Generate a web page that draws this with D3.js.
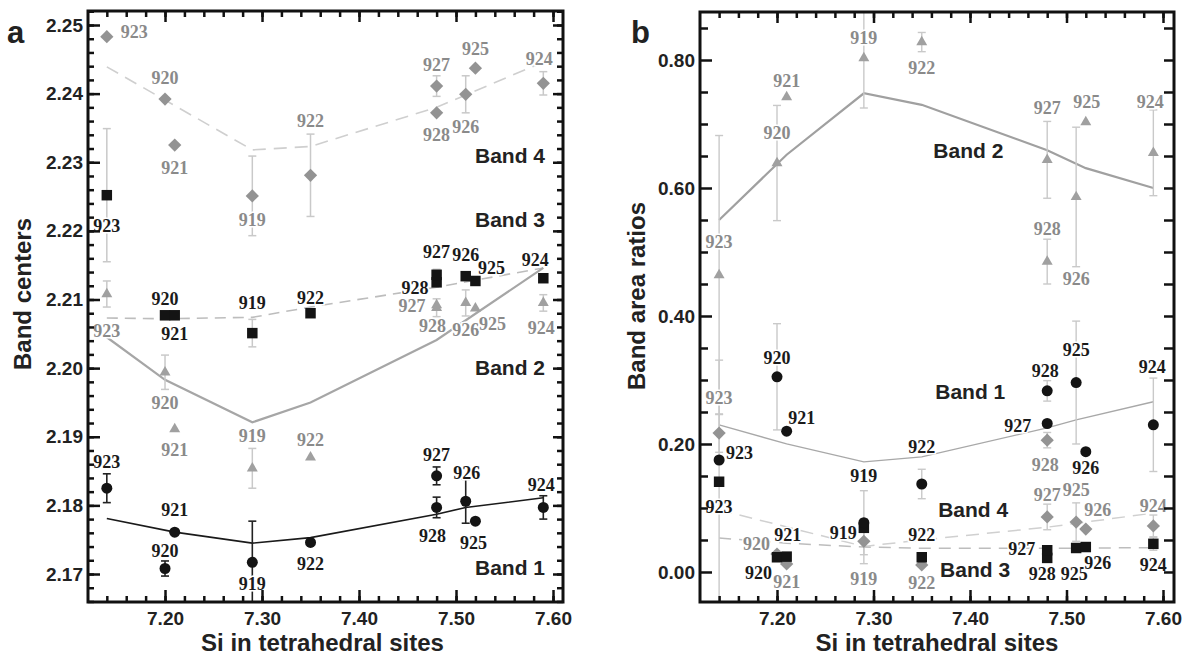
<!DOCTYPE html>
<html><head><meta charset="utf-8">
<script src="https://cdn.jsdelivr.net/npm/d3@7"></script>
<style>body{margin:0;background:#fff} svg{display:block}</style>
</head><body><svg id="c" width="1191" height="656"></svg>
<script>
// ---------- data ----------
const si = [7.14, 7.20, 7.21, 7.29, 7.35, 7.48, 7.48, 7.51, 7.52, 7.59];
const samplesA = ["923","920","921","919","922","928","927","926","925","924"];
const samplesB = ["923","920","921","919","922","928","927","925","926","924"];
const xTicks = [7.20, 7.30, 7.40, 7.50, 7.60];
const aYTicks = [2.17, 2.18, 2.19, 2.20, 2.21, 2.22, 2.23, 2.24, 2.25];
const bYTicks = [0.00, 0.20, 0.40, 0.60, 0.80];

// Panel a: band centers
const aBand1 = [2.1825, 2.1708, 2.1761, 2.1717, 2.1746, 2.1797, 2.1843, 2.1806, 2.1777, 2.1797];
const aBand1Err = [0.0021, 0.0011, 0, 0.006, 0, 0.0015, 0.0013, 0.0032, 0, 0.0017];
const aBand2 = [2.2108, 2.1994, 2.1911, 2.1854, 2.1870, 2.2088, 2.2092, 2.2095, 2.2087, 2.2095];
const aBand2Err = [0.0019, 0.0025, 0, 0.0029, 0, 0.0013, 0, 0.0019, 0, 0.0012];
const aBand3 = [2.2252, 2.2077, 2.2077, 2.2051, 2.2080, 2.2125, 2.2136, 2.2134, 2.2127, 2.2131];
const aBand3Err = [0.0097, 0, 0, 0.002, 0, 0, 0.0008, 0, 0, 0];
const aBand4 = [2.2483, 2.2392, 2.2325, 2.2251, 2.2281, 2.2372, 2.2411, 2.2399, 2.2437, 2.2415];
const aBand4Err = [0, 0, 0, 0.0058, 0.006, 0, 0.0015, 0.0027, 0, 0.0017];

const aFit1X = [7.14, 7.21, 7.29, 7.35, 7.48, 7.51, 7.59];
const aFit1 = [2.1781, 2.1761, 2.1745, 2.1753, 2.1787, 2.1797, 2.1811];
const aFit2X = [7.14, 7.20, 7.29, 7.35, 7.48, 7.59];
const aFit2 = [2.2045, 2.1983, 2.1921, 2.1950, 2.2041, 2.2146];
const aFit3X = [7.14, 7.20, 7.29, 7.35, 7.48, 7.59];
const aFit3 = [2.2073, 2.2072, 2.2074, 2.2089, 2.2118, 2.2146];
const aFit4X = [7.14, 7.29, 7.35, 7.48, 7.59];
const aFit4 = [2.2439, 2.2318, 2.2323, 2.2380, 2.2446];

// Panel b: band area ratios
const bBand1 = [0.175, 0.305, 0.220, 0.077, 0.1375, 0.283, 0.232, 0.296, 0.188, 0.230];
const bBand1Err = [0, 0.083, 0, 0.05, 0.023, 0.016, 0, 0.096, 0, 0.073];
const bBand2 = [0.464, 0.639, 0.742, 0.803, 0.828, 0.485, 0.644, 0.586, 0.703, 0.655];
const bBand2Err = [0.218, 0.09, 0, 0.078, 0.015, 0.035, 0.06, 0.109, 0, 0.067];
const bBand3 = [0.141, 0.023, 0.024, 0.069, 0.023, 0.022, 0.034, 0.0375, 0.039, 0.044];
const bBand3Err = [0.19, 0, 0, 0, 0, 0, 0, 0, 0, 0.01];
const bBand4 = [0.217, 0.028, 0.0125, 0.048, 0.011, 0.206, 0.086, 0.078, 0.067, 0.072];
const bBand4Err = [0.03, 0, 0, 0.035, 0, 0.012, 0.02, 0.03, 0, 0.017];

const bFit1X = [7.14, 7.21, 7.29, 7.35, 7.48, 7.51, 7.59];
const bFit1 = [0.230, 0.200, 0.172, 0.180, 0.225, 0.2375, 0.266];
const bFit2X = [7.14, 7.21, 7.29, 7.35, 7.48, 7.52, 7.59];
const bFit2 = [0.550, 0.652, 0.748, 0.730, 0.659, 0.631, 0.600];
const bFit3X = [7.14, 7.21, 7.29, 7.35, 7.48, 7.59];
const bFit3 = [0.053, 0.045, 0.039, 0.037, 0.037, 0.038];
const bFit4X = [7.14, 7.29, 7.35, 7.48, 7.52, 7.59];
const bFit4 = [0.097, 0.040, 0.050, 0.070, 0.078, 0.092];

// ---------- layout (label offsets in px, not data) ----------
const offA4 = [[14,-5,"start"],[0,-21],[0,23],[0,24],[0,-55],[0,22],[0,-21],[0,32],[0,-20],[-4,-25]];
const offA3 = [[0,31],[0,-17],[0,18],[0,-30],[0,-16],[-8,5,"end"],[0,-23],[0,-21],[16,-13],[-8,-19]];
const offA2 = [[0,37],[0,30],[0,20],[0,-33],[0,-18],[-4,18],[-11,1,"end"],[0,27],[17,15],[-2,25]];
const offA1 = [[0,-27],[0,-18],[0,-22],[0,21],[0,21],[-4,28],[0,-21],[1,-29],[-2,22],[-2,-23]];
const offB2 = [[0,-33],[0,-30],[0,-16],[0,-20],[0,26],[0,-33],[0,-52],[0,82],[1,-20],[-3,-51]];
const offB1 = [[7,-7,"start"],[0,-19],[15,-13],[0,-47],[0,-37],[-2,-20],[-16,2,"end"],[0,-33],[0,16],[-1,-58]];
const offB4 = [[0,-35],[-7,-10,"end"],[0,18],[0,37],[0,18],[-2,25],[0,-22],[0,-32],[12,-19],[0,-20]];
const offB3 = [[0,25],[-5,15,"end"],[1,-22],[-7,5,"end"],[0,-23],[-5,16],[-12,-2,"end"],[-2,26],[12,16],[0,21]];

const GRAY = "#939393", BLACK = "#141414", LGRAY = "#c9c9c9";
const svg = d3.select("#c");

const symbols = {
  circle: d3.symbol().type(d3.symbolCircle).size(95),
  square: d3.symbol().type(d3.symbolSquare).size(110),
  diamond: d3.symbol().type(d3.symbolSquare).size(88),
  triangle: d3.symbol().type(d3.symbolTriangle).size(52)
};

function drawPanel(p) {
  const g = svg.append("g");
  const x = d3.scaleLinear().domain(p.xDomain).range([p.left, p.right]);
  const y = d3.scaleLinear().domain(p.yDomain).range([p.bottom, p.top]);
  const clipId = "clip" + p.name;
  svg.append("clipPath").attr("id", clipId).append("rect")
    .attr("x", p.left).attr("y", p.top).attr("width", p.right - p.left).attr("height", p.bottom - p.top);
  const inner = g.append("g").attr("clip-path", `url(#${clipId})`);

  // fit lines
  p.fits.forEach(f => {
    const pts = f.x.map((v, i) => [x(v), y(f.y[i])]);
    inner.append("path").attr("d", d3.line()(pts)).attr("fill", "none")
      .attr("stroke", f.color).attr("stroke-width", f.width)
      .attr("stroke-dasharray", f.dash || null);
  });

  // error bars
  p.series.forEach(s => {
    s.values.forEach((v, i) => {
      const e = s.err[i];
      if (!e) return;
      const cx = x(si[i]), y1 = y(v - e), y2 = y(v + e);
      inner.append("line").attr("x1", cx).attr("x2", cx).attr("y1", y1).attr("y2", y2)
        .attr("stroke", s.errColor).attr("stroke-width", s.errWidth);
      [y1, y2].forEach(yy => inner.append("line").attr("x1", cx - 4).attr("x2", cx + 4)
        .attr("y1", yy).attr("y2", yy).attr("stroke", s.errColor).attr("stroke-width", s.errWidth));
    });
  });

  // point labels
  p.series.forEach(s => {
    s.values.forEach((v, i) => {
      const o = s.offsets[i];
      g.append("text").attr("x", x(si[i]) + o[0]).attr("y", y(v) + o[1]).attr("dy", "0.35em")
        .attr("text-anchor", o[2] || "middle")
        .attr("font-family", "'Liberation Serif', 'Times New Roman', serif")
        .attr("font-weight", "bold").attr("font-size", 18)
        .attr("fill", s.labelColor)
        .attr("stroke", "#fff").attr("stroke-width", 3).attr("paint-order", "stroke")
        .text(s.labels[i]);
    });
  });

  // markers
  p.series.forEach(s => {
    s.values.forEach((v, i) => {
      g.append("path").attr("d", symbols[s.symbol]())
        .attr("transform", `translate(${x(si[i])},${y(v)})` + (s.symbol === "diamond" ? " rotate(45)" : ""))
        .attr("fill", s.color);
    });
  });

  // axes with inward ticks
  const tickStyle = sel => {
    sel.select(".domain").remove();
    sel.selectAll("line").attr("stroke", "#111").attr("stroke-width", 2.5);
    sel.selectAll("text").attr("font-family", "'Liberation Sans', Arial, sans-serif")
      .attr("font-weight", "bold").attr("font-size", 19).attr("fill", "#222");
  };
  const xMinor = d3.range(0, 26).map(i => 7.12 + i * 0.02).filter(v => v >= p.xDomain[0] - 1e-9 && v <= p.xDomain[1]);
  const yMinor = p.yMinor;

  g.append("g").attr("transform", `translate(0,${p.bottom})`)
    .call(d3.axisBottom(x).tickValues(xTicks).tickFormat(d3.format(".2f")).tickSize(-12).tickPadding(10)).call(tickStyle);
  g.append("g").attr("transform", `translate(0,${p.bottom})`)
    .call(d3.axisBottom(x).tickValues(xMinor).tickFormat("").tickSize(-6)).call(tickStyle);
  g.append("g").attr("transform", `translate(0,${p.top})`)
    .call(d3.axisTop(x).tickValues(xTicks).tickFormat("").tickSize(-11)).call(tickStyle);
  g.append("g").attr("transform", `translate(0,${p.top})`)
    .call(d3.axisTop(x).tickValues(xMinor).tickFormat("").tickSize(-6)).call(tickStyle);

  g.append("g").attr("transform", `translate(${p.left},0)`)
    .call(d3.axisLeft(y).tickValues(p.yTicks).tickFormat(d3.format(".2f")).tickSize(-12).tickPadding(5)).call(tickStyle);
  g.append("g").attr("transform", `translate(${p.left},0)`)
    .call(d3.axisLeft(y).tickValues(yMinor).tickFormat("").tickSize(-p.minorLen)).call(tickStyle);
  g.append("g").attr("transform", `translate(${p.right},0)`)
    .call(d3.axisRight(y).tickValues(p.rightMajor).tickFormat("").tickSize(-10)).call(tickStyle);
  g.append("g").attr("transform", `translate(${p.right},0)`)
    .call(d3.axisRight(y).tickValues(yMinor).tickFormat("").tickSize(-p.rightMinorLen)).call(tickStyle);

  // frame
  g.append("rect").attr("x", p.left).attr("y", p.top).attr("width", p.right - p.left).attr("height", p.bottom - p.top)
    .attr("fill", "none").attr("stroke", "#111").attr("stroke-width", 3);

  // band labels
  p.bandLabels.forEach(b => {
    g.append("text").attr("x", b.anchor === "end" ? p.right - 18 : x(b.x)).attr("y", y(b.y)).attr("dy", "0.35em")
      .attr("text-anchor", b.anchor)
      .attr("font-family", "'Liberation Sans', Arial, sans-serif").attr("font-weight", "bold")
      .attr("font-size", 21).attr("fill", "#222").text(b.text);
  });

  // axis titles
  const tf = "'Liberation Sans', Arial, sans-serif";
  g.append("text").attr("x", (p.left + p.right) / 2 + p.xTitleShift).attr("y", 651).attr("text-anchor", "middle")
    .attr("font-family", tf).attr("font-weight", "bold").attr("font-size", 24).attr("fill", "#222")
    .text("Si in tetrahedral sites");
  g.append("text").attr("transform", `translate(${p.yTitleX},${p.yTitleY}) rotate(-90)`).attr("text-anchor", "middle")
    .attr("dy", "0.35em")
    .attr("font-family", tf).attr("font-weight", "bold").attr("font-size", 24).attr("fill", "#222")
    .text(p.yTitle);
  g.append("text").attr("x", p.letterX).attr("y", 43)
    .attr("font-family", tf).attr("font-weight", "bold").attr("font-size", 31).attr("fill", "#222")
    .text(p.letter);
}

const fmt = v => +v.toFixed(4);
drawPanel({
  name: "a", left: 88, right: 563, top: 11, bottom: 602,
  xDomain: [7.1206, 7.6103], yDomain: [2.16592, 2.25204],
  yTicks: aYTicks,
  yMinor: d3.range(0, 44).map(i => fmt(2.166 + i * 0.002)).filter(v => v <= 2.252),
  rightMajor: aYTicks, minorLen: 6, rightMinorLen: 6,
  letter: "a", letterX: 7, yTitle: "Band centers", yTitleX: 23, yTitleY: 294, xTitleShift: -3,
  fits: [
    {x: aFit4X, y: aFit4, color: "#cfcfcf", width: 1.6, dash: "13,8"},
    {x: aFit3X, y: aFit3, color: "#bdbdbd", width: 1.6, dash: "11,7"},
    {x: aFit2X, y: aFit2, color: "#a6a6a6", width: 2.2},
    {x: aFit1X, y: aFit1, color: "#1a1a1a", width: 1.6}
  ],
  series: [
    {values: aBand4, err: aBand4Err, labels: samplesA, offsets: offA4, symbol: "diamond", color: GRAY, errColor: LGRAY, errWidth: 1.5, labelColor: "#8a8a8a"},
    {values: aBand3, err: aBand3Err, labels: samplesA, offsets: offA3, symbol: "square", color: BLACK, errColor: LGRAY, errWidth: 1.5, labelColor: "#1a1a1a"},
    {values: aBand2, err: aBand2Err, labels: samplesA, offsets: offA2, symbol: "triangle", color: "#a0a0a0", errColor: LGRAY, errWidth: 1.5, labelColor: "#8a8a8a"},
    {values: aBand1, err: aBand1Err, labels: samplesA, offsets: offA1, symbol: "circle", color: BLACK, errColor: "#222", errWidth: 1.6, labelColor: "#1a1a1a"}
  ],
  bandLabels: [
    {text: "Band 4", y: 2.2310, anchor: "end"},
    {text: "Band 3", y: 2.2216, anchor: "end"},
    {text: "Band 2", y: 2.2001, anchor: "end"},
    {text: "Band 1", y: 2.1709, anchor: "end"}
  ]
});

drawPanel({
  name: "b", left: 700, right: 1174, top: 12, bottom: 602,
  xDomain: [7.1202, 7.6114], yDomain: [-0.0469, 0.875],
  yTicks: bYTicks,
  yMinor: d3.range(1, 18).map(i => fmt(i * 0.05)).filter(v => v <= 0.875 && bYTicks.indexOf(v) < 0),
  rightMajor: d3.range(0, 18).map(i => fmt(i * 0.05)), minorLen: 8, rightMinorLen: 0,
  letter: "b", letterX: 631, yTitle: "Band area ratios", yTitleX: 637, yTitleY: 296, xTitleShift: 0,
  fits: [
    {x: bFit4X, y: bFit4, color: "#d0d0d0", width: 1.5, dash: "13,8"},
    {x: bFit3X, y: bFit3, color: "#bdbdbd", width: 1.5, dash: "12,8"},
    {x: bFit2X, y: bFit2, color: "#a0a0a0", width: 2.2},
    {x: bFit1X, y: bFit1, color: "#a8a8a8", width: 1.3}
  ],
  series: [
    {values: bBand2, err: bBand2Err, labels: samplesA, offsets: offB2, symbol: "triangle", color: "#a0a0a0", errColor: LGRAY, errWidth: 1.4, labelColor: "#8a8a8a"},
    {values: bBand4, err: bBand4Err, labels: samplesB, offsets: offB4, symbol: "diamond", color: GRAY, errColor: LGRAY, errWidth: 1.4, labelColor: "#8a8a8a"},
    {values: bBand3, err: bBand3Err, labels: samplesB, offsets: offB3, symbol: "square", color: BLACK, errColor: LGRAY, errWidth: 1.4, labelColor: "#1a1a1a"},
    {values: bBand1, err: bBand1Err, labels: samplesB, offsets: offB1, symbol: "circle", color: BLACK, errColor: LGRAY, errWidth: 1.4, labelColor: "#1a1a1a"}
  ],
  bandLabels: [
    {text: "Band 2", x: 7.362, y: 0.659, anchor: "start"},
    {text: "Band 1", x: 7.364, y: 0.281, anchor: "start"},
    {text: "Band 4", x: 7.367, y: 0.097, anchor: "start"},
    {text: "Band 3", x: 7.369, y: 0.003, anchor: "start"}
  ]
});
</script>
</body></html>
